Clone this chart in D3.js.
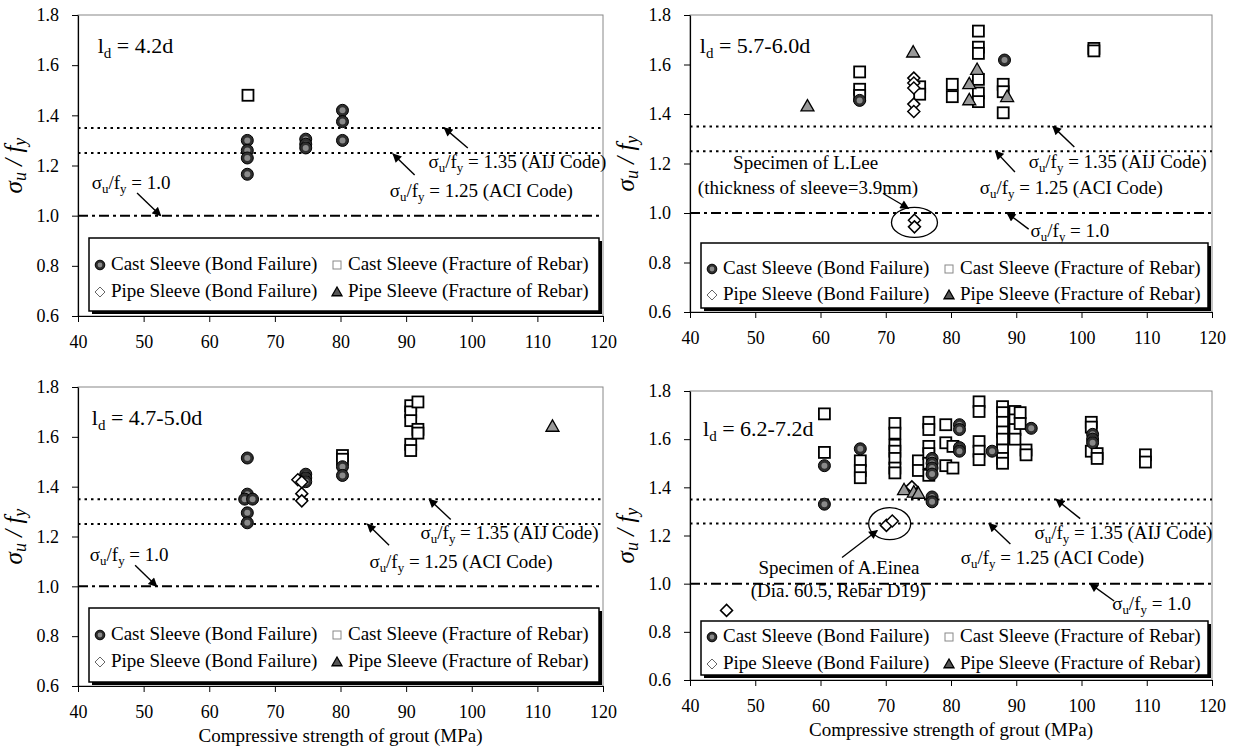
<!DOCTYPE html>
<html><head><meta charset="utf-8">
<script src="https://cdn.jsdelivr.net/npm/d3@7"></script>
<style>
body{margin:0;background:#fff}
svg{font-family:"Liberation Serif","Times New Roman",serif}
</style>
</head><body>
<svg id="chart" width="1235" height="756"></svg>
<script>
// ---------- data ----------
const xTicks = [40, 50, 60, 70, 80, 90, 100, 110, 120];
const yTicks = [0.6, 0.8, 1.0, 1.2, 1.4, 1.6, 1.8];
const seriesNames = ["Cast Sleeve (Bond Failure)", "Cast Sleeve (Fracture of Rebar)",
                     "Pipe Sleeve (Bond Failure)", "Pipe Sleeve (Fracture of Rebar)"];
const panelLd = ["4.2d", "5.7-6.0d", "4.7-5.0d", "6.2-7.2d"];
const xTitle = "Compressive strength of grout (MPa)";
const codeLevels = [1.35, 1.25, 1.0];
const codeLabels = ["1.35 (AIJ Code)", "1.25 (ACI Code)", "1.0"];

// top-left (ld = 4.2d)
const tlCastBond = [[65.8,1.30],[65.8,1.26],[65.8,1.23],[65.8,1.165],[74.7,1.305],[74.7,1.285],[74.7,1.27],[80.3,1.42],[80.3,1.375],[80.3,1.30]];
const tlCastFracture = [[65.9,1.48]];
const tlPipeBond = [];
const tlPipeFracture = [];

// top-right (ld = 5.7-6.0d)
const trCastBond = [[66.0,1.455],[88.2,1.618]];
const trCastFracture = [[66.0,1.57],[66.0,1.50],[66.0,1.475],[75.2,1.51],[75.2,1.48],[80.2,1.52],[80.2,1.47],[84.2,1.735],[84.2,1.67],[84.2,1.645],[84.2,1.54],[84.2,1.485],[84.2,1.45],[88.0,1.52],[88.0,1.49],[88.0,1.405],[101.9,1.665],[101.9,1.655]];
const trPipeBond = [[74.3,1.545],[74.3,1.525],[74.3,1.505],[74.3,1.44],[74.3,1.41],[74.4,0.971],[74.4,0.944]];
const trPipeFracture = [[58.0,1.432],[74.2,1.65],[82.8,1.522],[82.8,1.457],[84.0,1.58],[88.6,1.47]];

// bottom-left (ld = 4.7-5.0d)
const blCastBond = [[65.8,1.515],[65.8,1.37],[65.4,1.35],[66.6,1.35],[65.8,1.295],[65.8,1.255],[74.7,1.45],[74.7,1.435],[74.7,1.42],[80.3,1.48],[80.3,1.445]];
const blCastFracture = [[80.3,1.525],[80.3,1.51],[90.7,1.725],[90.7,1.70],[90.7,1.665],[90.7,1.57],[90.7,1.545],[91.8,1.74],[91.8,1.63],[91.8,1.615]];
const blPipeBond = [[73.5,1.428],[74.1,1.419],[74.1,1.372],[74.1,1.343]];
const blPipeFracture = [[112.3,1.642]];

// bottom-right (ld = 6.2-7.2d)
const brCastBond = [[60.6,1.49],[60.6,1.33],[66.1,1.56],[77.1,1.52],[77.1,1.50],[77.1,1.48],[77.1,1.455],[77.1,1.36],[77.1,1.34],[81.3,1.66],[81.3,1.64],[81.3,1.565],[81.3,1.55],[86.3,1.55],[92.3,1.645],[101.7,1.62],[101.7,1.60],[101.7,1.585]];
const brCastFracture = [[60.6,1.705],[60.6,1.545],[66.1,1.51],[66.1,1.47],[66.1,1.44],[71.4,1.665],[71.4,1.625],[71.4,1.575],[71.4,1.55],[71.4,1.52],[71.4,1.48],[71.4,1.46],[75.0,1.51],[75.0,1.47],[76.6,1.67],[76.6,1.64],[76.6,1.57],[76.6,1.54],[76.6,1.50],[76.6,1.45],[79.2,1.66],[79.2,1.585],[79.2,1.49],[80.3,1.57],[80.3,1.48],[84.3,1.755],[84.3,1.715],[84.3,1.59],[84.3,1.55],[84.3,1.515],[87.9,1.735],[87.9,1.71],[87.9,1.67],[87.9,1.63],[87.9,1.60],[87.9,1.555],[87.9,1.52],[87.9,1.50],[89.8,1.715],[89.8,1.68],[89.8,1.64],[89.8,1.60],[90.6,1.71],[90.6,1.665],[91.5,1.555],[91.5,1.535],[101.5,1.67],[101.5,1.65],[101.5,1.55],[102.4,1.54],[102.4,1.52],[109.8,1.535],[109.8,1.505]];
const brPipeBond = [[45.6,0.889],[70.1,1.242],[71.0,1.26],[74.0,1.402]];
const brPipeFracture = [[72.8,1.39],[74.3,1.38],[75.0,1.375]];

// ---------- layout ----------
const panels = [
  {x0:78,  x1:603,  yT:15,  yB:316, cb:tlCastBond, cf:tlCastFracture, pb:tlPipeBond, pf:tlPipeFracture, xlab:false,
   leg:[78,5,53,26],
   ld:[43.0,1.65], lab:[[93.4,1.19],[87.5,1.076],[42.1,1.106]], arr:[[[99.4,1.27],[95.8,1.35]],[[91.3,1.162],[88.0,1.246]],[[49.0,1.09],[52.6,1.0]]]},
  {x0:690, x1:1212, yT:15,  yB:312, cb:trCastBond, cf:trCastFracture, pb:trPipeBond, pf:trPipeFracture, xlab:false,
   leg:[69,4,45,19],
   ld:[41.5,1.645], lab:[[91.9,1.183],[84.4,1.075],[92.2,0.902]], arr:[[[98.9,1.267],[95.6,1.35]],[[89.8,1.166],[86.8,1.25]],[[91.9,0.935],[88.6,1.0]]],
   note:{lines:["Specimen of L.Lee","(thickness of sleeve=3.9mm)"], pos:[[46.6,1.179],[41.2,1.075]], lead:[[69.6,1.079],[73.5,1.018]], ell:[74.4,0.962,23,15]}},
  {x0:78,  x1:603,  yT:387, yB:686, cb:blCastBond, cf:blCastFracture, pb:blPipeBond, pf:blPipeFracture, xlab:true,
   leg:[78,4,53,26],
   ld:[42.1,1.646], lab:[[92.2,1.188],[84.4,1.074],[41.8,1.101]], arr:[[[96.8,1.268],[93.5,1.35]],[[87.4,1.165],[84.1,1.25]],[[48.7,1.085],[52.0,1.0]]]},
  {x0:690, x1:1212, yT:391, yB:680, cb:brCastBond, cf:brCastFracture, pb:brPipeBond, pf:brPipeFracture, xlab:true,
   leg:[59,5,45,18],
   ld:[42.0,1.612], lab:[[92.8,1.185],[81.5,1.08],[104.7,0.889]], arr:[[[99.8,1.27],[96.1,1.35]],[[89.1,1.165],[85.8,1.25]],[[105,0.928],[101.3,1.0]]],
   note:{lines:["Specimen of A.Einea","(Dia. 60.5, Rebar D19)"], pos:[[50.5,1.042],[49.3,0.945]], lead:[[63.3,1.109],[68.7,1.221]], ell:[70.6,1.249,21,16]}}
];

const svg = d3.select("#chart");
const defs = svg.append("defs");
defs.append("marker").attr("id","arrow").attr("viewBox","0 0 10 10")
  .attr("refX",9).attr("refY",5).attr("markerWidth",10).attr("markerHeight",9)
  .attr("markerUnits","userSpaceOnUse").attr("orient","auto")
  .append("path").attr("d","M0,0 L10,5 L0,10 Z").attr("fill","#000");

function sigmaLabel(g, x, y, tail, fs) {
  const t = g.append("text").attr("x", x).attr("y", y).attr("font-size", fs);
  t.append("tspan").text("σ");
  t.append("tspan").text("u").attr("font-size", fs*0.68).attr("dy", 4);
  t.append("tspan").text("/f").attr("dy", -4);
  t.append("tspan").text("y").attr("font-size", fs*0.68).attr("dy", 4);
  t.append("tspan").text(" = " + tail).attr("dy", -4);
  return t;
}

function drawMarker(g, type, x, y, legend) {
  const k = legend ? 0.8 : 1;
  if (type === "cb") {
    g.append("circle").attr("cx",x).attr("cy",y).attr("r",6*k).attr("fill","#2e2e2e").attr("stroke","#000").attr("stroke-width",1);
    g.append("circle").attr("cx",x).attr("cy",y).attr("r",3*k).attr("fill","#8a8a8a");
  } else if (type === "cf") {
    const s = (legend ? 8 : 11);
    g.append("rect").attr("x",x-s/2).attr("y",y-s/2).attr("width",s).attr("height",s)
      .attr("fill","#fff").attr("stroke",legend?"#888":"#000").attr("stroke-width",legend?1:1.8);
  } else if (type === "pb") {
    const h = legend ? 5 : 6;
    g.append("path").attr("d",`M${x},${y-h} L${x+h},${y} L${x},${y+h} L${x-h},${y} Z`)
      .attr("fill","#fff").attr("stroke",legend?"#666":"#000").attr("stroke-width",legend?1:1.5);
  } else {
    const h = legend ? 5 : 6.5;
    g.append("path").attr("d",`M${x},${y-h} L${x+h},${y+h*0.75} L${x-h},${y+h*0.75} Z`)
      .attr("fill",legend?"#555":"#999").attr("stroke","#000").attr("stroke-width",1.3);
  }
}

panels.forEach((p, pi) => {
  const g = svg.append("g");
  const x = d3.scaleLinear().domain([40,120]).range([p.x0, p.x1]);
  const y = d3.scaleLinear().domain([0.6,1.8]).range([p.yB, p.yT]);

  // plot frame (top/right grey)
  g.append("rect").attr("x",p.x0).attr("y",p.yT).attr("width",p.x1-p.x0).attr("height",p.yB-p.yT)
    .attr("fill","none").attr("stroke","#888").attr("stroke-width",1);

  // reference lines
  codeLevels.forEach((v,i) => {
    g.append("line").attr("x1",p.x0).attr("x2",p.x1).attr("y1",y(v)).attr("y2",y(v))
      .attr("stroke","#000").attr("stroke-width",2)
      .attr("stroke-dasharray", i < 2 ? "2.5,4" : "10,4,3,4");
  });

  // axes
  const ax = g.append("g").attr("transform",`translate(0,${p.yB})`)
    .call(d3.axisBottom(x).tickValues(xTicks).tickFormat(d3.format("d")).tickSize(6).tickSizeOuter(0).tickPadding(13));
  const ay = g.append("g").attr("transform",`translate(${p.x0},0)`)
    .call(d3.axisLeft(y).tickValues(yTicks).tickFormat(d3.format(".1f")).tickSize(6).tickSizeOuter(0).tickPadding(13));
  [ax, ay].forEach(a => {
    a.selectAll("text").attr("font-size",18).attr("fill","#000").attr("font-family","Liberation Serif");
    a.selectAll("line").attr("stroke","#000");
    a.select(".domain").attr("stroke","#000").attr("stroke-width",1.2);
  });

  // y title
  const yt = g.append("text").attr("transform",`translate(${p.x0-56},${y(1.2)}) rotate(-90)`)
    .attr("text-anchor","middle").attr("font-size",25).attr("font-style","italic");
  yt.append("tspan").text("σ");
  yt.append("tspan").text("u").attr("font-size",18).attr("dy",4);
  yt.append("tspan").text(" / f").attr("dy",-4);
  yt.append("tspan").text("y").attr("font-size",18).attr("dy",4);

  if (p.xlab) {
    g.append("text").attr("x",(p.x0+p.x1)/2).attr("y",p.yB+56).attr("text-anchor","middle")
      .attr("font-size",19).text(xTitle);
  }

  // ld label
  const lt = g.append("text").attr("x",x(p.ld[0])).attr("y",y(p.ld[1])).attr("font-size",22);
  lt.append("tspan").text("l");
  lt.append("tspan").text("d").attr("font-size",15).attr("dy",5);
  lt.append("tspan").text(" = " + panelLd[pi]).attr("dy",-5);

  // annotations
  codeLabels.forEach((c,i) => {
    sigmaLabel(g, x(p.lab[i][0]), y(p.lab[i][1]), c, 19);
    const a = p.arr[i];
    g.append("line").attr("x1",x(a[0][0])).attr("y1",y(a[0][1])).attr("x2",x(a[1][0])).attr("y2",y(a[1][1]))
      .attr("stroke","#000").attr("stroke-width",1.4).attr("marker-end","url(#arrow)");
  });
  if (p.note) {
    p.note.lines.forEach((t,i) => g.append("text").attr("x",x(p.note.pos[i][0])).attr("y",y(p.note.pos[i][1]))
      .attr("font-size",19).text(t));
    const L = p.note.lead;
    g.append("line").attr("x1",x(L[0][0])).attr("y1",y(L[0][1])).attr("x2",x(L[1][0])).attr("y2",y(L[1][1]))
      .attr("stroke","#000").attr("stroke-width",1.3).attr("marker-end","url(#arrow)");
    const E = p.note.ell;
    g.append("ellipse").attr("cx",x(E[0])).attr("cy",y(E[1])).attr("rx",E[2]).attr("ry",E[3])
      .attr("fill","none").attr("stroke","#000").attr("stroke-width",1.3);
  }

  // data points
  const mk = g.append("g");
  p.cf.forEach(d => drawMarker(mk, "cf", x(d[0]), y(d[1])));
  p.cb.forEach(d => drawMarker(mk, "cb", x(d[0]), y(d[1])));
  p.pb.forEach(d => drawMarker(mk, "pb", x(d[0]), y(d[1])));
  p.pf.forEach(d => drawMarker(mk, "pf", x(d[0]), y(d[1])));

  // legend
  const bl = p.x0 + 11, br = p.x1 - 4, bt = p.yB - p.leg[0], bb = p.yB - p.leg[1];
  g.append("rect").attr("x",bl+3).attr("y",bt+3).attr("width",br-bl).attr("height",bb-bt).attr("fill","#000");
  g.append("rect").attr("x",bl).attr("y",bt).attr("width",br-bl).attr("height",bb-bt)
    .attr("fill","#fff").attr("stroke","#000").attr("stroke-width",1.5);
  const types = ["cb","cf","pb","pf"];
  types.forEach((t,i) => {
    const col = i % 2, row = Math.floor(i/2);
    const cy = p.yB - p.leg[2 + row];
    const mx = col === 0 ? bl + 11 : p.x0 + 259;
    drawMarker(g, t, mx, cy + 2, true);
    g.append("text").attr("x", mx + 11).attr("y", cy + 6.5).attr("font-size",19).text(seriesNames[i]);
  });
});
</script>
</body></html>
